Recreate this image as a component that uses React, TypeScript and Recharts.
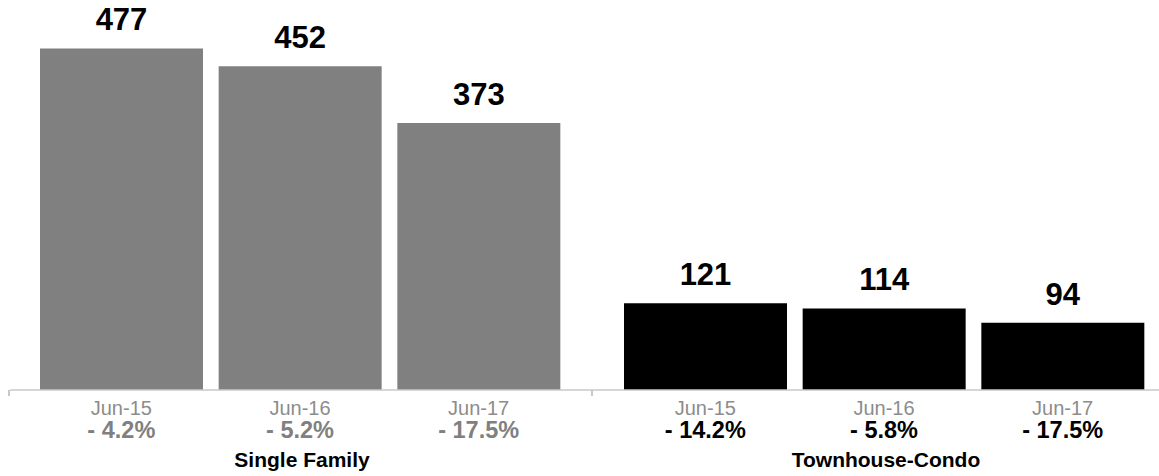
import React from 'react';
import { BarChart, Bar, XAxis, YAxis, LabelList } from 'recharts';

const months = ['Jun-15', 'Jun-16', 'Jun-17'];
const singleFamily = [477, 452, 373];
const townhouseCondo = [121, 114, 94];
const singleFamilyChange = ['- 4.2%', '- 5.2%', '- 17.5%'];
const townhouseCondoChange = ['- 14.2%', '- 5.8%', '- 17.5%'];
const groupNames = ['Single Family', 'Townhouse-Condo'];

const FONT = '"Liberation Sans", Arial, Helvetica, sans-serif';

const makeTick = (changes: string[], changeColor: string) => (props: any) => {
  const { x, y, index } = props;
  return (
    <g>
      <text x={x} y={y + 25} textAnchor="middle" fill="#8c8c8c" fontSize={20} fontFamily={FONT}>
        {months[index]}
      </text>
      <text
        x={x}
        y={y + 48}
        textAnchor="middle"
        fill={changeColor}
        fontSize={23.5}
        fontWeight="bold"
        fontFamily={FONT}
      >
        {changes[index]}
      </text>
    </g>
  );
};

interface GroupProps {
  values: number[];
  changes: string[];
  color: string;
  changeColor: string;
  name: string;
}

const GroupChart: React.FC<GroupProps> = ({ values, changes, color, changeColor, name }) => {
  const data = months.map((m, i) => ({ name: m, value: values[i] }));
  return (
    <BarChart
      width={584}
      height={476}
      data={data}
      margin={{ top: 32, right: 0, left: 0, bottom: 0 }}
      barCategoryGap={8}
    >
      <XAxis
        dataKey="name"
        height={86}
        interval={0}
        tickLine={false}
        tickSize={0}
        tickMargin={0}
        axisLine={{ stroke: '#c8c8c8', strokeWidth: 1.5 }}
        padding={{ left: 22, right: 26 }}
        tick={makeTick(changes, changeColor)}
        label={{
          value: name,
          position: 'insideBottom',
          offset: 9,
          fill: '#000',
          fontSize: 21,
          fontWeight: 'bold',
          fontFamily: FONT,
        }}
      />
      <YAxis hide domain={[0, 500]} />
      <Bar dataKey="value" fill={color} isAnimationActive={false}>
        <LabelList
          dataKey="value"
          position="top"
          offset={18}
          fill="#000"
          fontSize={31}
          fontWeight="bold"
          fontFamily={FONT}
        />
      </Bar>
    </BarChart>
  );
};

const edgeTick = (left: number) => (
  <div
    style={{
      position: 'absolute',
      left,
      top: 390,
      width: 1.5,
      height: 6,
      background: '#c8c8c8',
    }}
  />
);

export default function App() {
  return (
    <>
      <style>{`body { margin: 0; }`}</style>
      <div
        style={{
          position: 'relative',
          width: 1159,
          height: 476,
          overflow: 'hidden',
          background: '#fff',
          fontFamily: FONT,
        }}
      >
        <div style={{ position: 'absolute', left: 10, top: 0 }}>
          <GroupChart
            values={singleFamily}
            changes={singleFamilyChange}
            color="#808080"
            changeColor="#808080"
            name={groupNames[0]}
          />
        </div>
        <div style={{ position: 'absolute', left: 594, top: 0 }}>
          <GroupChart
            values={townhouseCondo}
            changes={townhouseCondoChange}
            color="#000000"
            changeColor="#000000"
            name={groupNames[1]}
          />
        </div>
        {edgeTick(8)}
        {edgeTick(591)}
      </div>
    </>
  );
}
